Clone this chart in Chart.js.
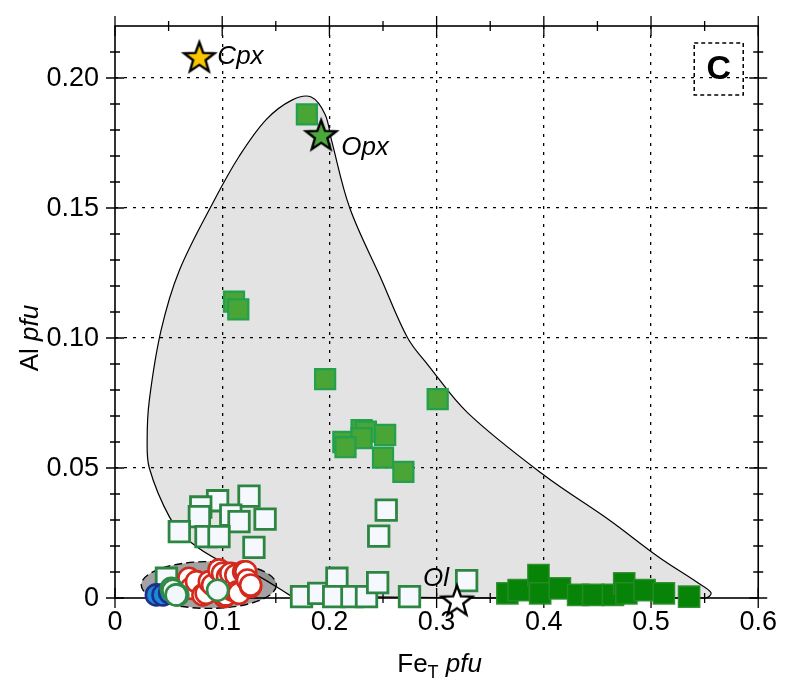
<!DOCTYPE html>
<html>
<head>
<meta charset="utf-8">
<script src="https://cdn.jsdelivr.net/npm/chart.js@4.4.1/dist/chart.umd.min.js"></script>
<style>
  html, body { margin: 0; padding: 0; background: #fff; }
</style>
</head>
<body>
<canvas id="chart" width="785" height="684"></canvas>
<script>
// ---- values ----
const xTicks = [0, 0.1, 0.2, 0.3, 0.4, 0.5, 0.6];
const yTicks = [0, 0.05, 0.10, 0.15, 0.20];
const xMinorTicks = [0.05, 0.15, 0.25, 0.35, 0.45, 0.55];
const yMinorTicks = [0.01, 0.02, 0.03, 0.04, 0.06, 0.07, 0.08, 0.09, 0.11, 0.12, 0.13, 0.14, 0.16, 0.17, 0.18, 0.19, 0.21];

// grey field outline (Fe_T, Al)
const fieldOutline = [
  [0.164, 0.0008], [0.35, 0.0], [0.551, 0.0], [0.556, 0.002], [0.544, 0.0058],
  [0.507, 0.0158], [0.461, 0.030], [0.40, 0.0473], [0.329, 0.0712], [0.292, 0.0896],
  [0.273, 0.100], [0.248, 0.123], [0.219, 0.150], [0.202, 0.176], [0.196, 0.186],
  [0.183, 0.1927], [0.165, 0.1915], [0.141, 0.184], [0.116, 0.170], [0.0926, 0.153],
  [0.060, 0.126], [0.043, 0.103], [0.032, 0.076], [0.030, 0.061], [0.032, 0.050],
  [0.051, 0.031], [0.069, 0.022], [0.100, 0.0138], [0.131, 0.009], [0.164, 0.0008]
];
// dark ellipse around the circle cluster: centre and half-axes
const ellipseCentre = [0.0875, 0.005];
const ellipseHalfAxes = [0.0630, 0.0090];

const greenFilled = [
  [0.179, 0.186], [0.111, 0.114], [0.115, 0.111], [0.196, 0.0842], [0.301, 0.0765],
  [0.213, 0.060], [0.230, 0.0646], [0.234, 0.064], [0.252, 0.0627], [0.230, 0.0615],
  [0.215, 0.058], [0.250, 0.054], [0.269, 0.0485]
];
const darkGreenFilled = [
  [0.366, 0.0018], [0.3765, 0.003], [0.395, 0.0088], [0.3966, 0.0018], [0.415, 0.0037],
  [0.432, 0.0012], [0.446, 0.0012], [0.4645, 0.0012], [0.475, 0.0056], [0.477, 0.0018],
  [0.494, 0.003], [0.512, 0.0018], [0.5355, 0.0005]
];
const openSquares = [
  [0.048, 0.0076], [0.125, 0.0392], [0.0957, 0.0374], [0.080, 0.035], [0.0787, 0.0313],
  [0.108, 0.0319], [0.1157, 0.0294], [0.140, 0.0303], [0.060, 0.0255], [0.0849, 0.0236],
  [0.097, 0.0236], [0.1296, 0.0195], [0.253, 0.0338], [0.246, 0.0238], [0.174, 0.0005],
  [0.190, 0.0018], [0.207, 0.0076], [0.204, 0.0005], [0.221, 0.0005], [0.2346, 0.0005],
  [0.245, 0.0059], [0.2747, 0.0005], [0.328, 0.0067]
];
const redCircles = [
  [0.069, 0.0076], [0.0787, 0.005], [0.071, 0.0037], [0.076, 0.0063], [0.082, 0.0012],
  [0.085, 0.0018], [0.088, 0.0063], [0.091, 0.005], [0.097, 0.0108], [0.1003, 0.0095],
  [0.102, 0.0005], [0.1034, 0.0012], [0.105, 0.0082], [0.108, 0.0095], [0.1096, 0.003],
  [0.1127, 0.0088], [0.114, 0.0024], [0.1157, 0.0018], [0.120, 0.0101], [0.122, 0.0101],
  [0.1235, 0.0069], [0.1265, 0.0044], [0.1265, 0.005]
];
const blueCircles = [[0.0386, 0.0012], [0.0448, 0.0012], [0.051, 0.002]];
const greenCircles = [[0.0525, 0.0037], [0.054, 0.003], [0.0586, 0.0012], [0.057, 0.0012], [0.0957, 0.003]];

const starNames = ['Cpx', 'Opx', 'Ol'];
const starX = [0.0787, 0.1923, 0.319];
const starY = [0.208, 0.178, -0.001];
const starColors = ['#f7c600', '#4ba83a', '#ffffff'];

// ---- helpers ----
const pts = arr => arr.map(p => ({ x: p[0], y: p[1] }));

function makeStar(fill) {
  const c = document.createElement('canvas');
  c.width = 38; c.height = 38;
  const g = c.getContext('2d');
  g.beginPath();
  for (let i = 0; i < 10; i++) {
    const r = i % 2 === 0 ? 16 : 6.6;
    const a = -Math.PI / 2 + i * Math.PI / 5;
    g.lineTo(19 + r * Math.cos(a), 20 + r * Math.sin(a));
  }
  g.closePath();
  g.fillStyle = fill;
  g.fill();
  g.lineWidth = 2.4;
  g.strokeStyle = '#000';
  g.stroke();
  return c;
}

const FONT = "'Liberation Sans', Arial, Helvetica, sans-serif";

// frame, ticks on all four sides, y tick labels
const framePlugin = {
  id: 'frame',
  beforeDatasetsDraw(chart) {
    const { ctx, chartArea: a, scales: { x, y } } = chart;
    ctx.save();
    ctx.strokeStyle = '#000';
    ctx.lineWidth = 1.6;
    ctx.strokeRect(a.left, a.top, a.right - a.left, a.bottom - a.top);
    ctx.lineWidth = 1.3;
    ctx.beginPath();
    const vt = (v, len) => {
      const px = x.getPixelForValue(v);
      ctx.moveTo(px, a.bottom - len); ctx.lineTo(px, a.bottom + len);
      ctx.moveTo(px, a.top - len); ctx.lineTo(px, a.top + len);
    };
    const ht = (v, len) => {
      const py = y.getPixelForValue(v);
      ctx.moveTo(a.left - len, py); ctx.lineTo(a.left + len, py);
      ctx.moveTo(a.right - len, py); ctx.lineTo(a.right + len, py);
    };
    xTicks.forEach(v => vt(v, 10));
    xMinorTicks.forEach(v => vt(v, 5));
    yTicks.forEach(v => ht(v, 9));
    yMinorTicks.forEach(v => ht(v, 5));
    ctx.stroke();

    ctx.fillStyle = '#000';
    ctx.font = `27px ${FONT}`;
    ctx.textAlign = 'right';
    ctx.textBaseline = 'middle';
    yTicks.forEach(v => {
      ctx.fillText(v === 0 ? '0' : v.toFixed(2), a.left - 16, y.getPixelForValue(v) + 1);
    });
    ctx.restore();
  }
};

// ellipse drawn just after the grey field
const ellipsePlugin = {
  id: 'ellipse',
  afterDatasetDraw(chart, args) {
    if (chart.data.datasets[args.index].label !== 'field') return;
    const { ctx, scales: { x, y } } = chart;
    const cx = x.getPixelForValue(ellipseCentre[0]);
    const cy = y.getPixelForValue(ellipseCentre[1]);
    const rx = x.getPixelForValue(ellipseCentre[0] + ellipseHalfAxes[0]) - cx;
    const ry = cy - y.getPixelForValue(ellipseCentre[1] + ellipseHalfAxes[1]);
    ctx.save();
    ctx.beginPath();
    ctx.ellipse(cx, cy, rx, ry, 0, 0, Math.PI * 2);
    ctx.fillStyle = 'rgba(0,0,0,0.36)';
    ctx.fill();
    ctx.setLineDash([8, 4]);
    ctx.lineWidth = 1.4;
    ctx.strokeStyle = '#000';
    ctx.stroke();
    ctx.restore();
  }
};

// star labels, panel letter, axis titles
const textPlugin = {
  id: 'texts',
  afterDatasetsDraw(chart) {
    const { ctx, chartArea: a, scales: { x, y } } = chart;
    ctx.save();
    ctx.fillStyle = '#000';
    ctx.strokeStyle = '#000';
    ctx.font = `italic 26px ${FONT}`;
    ctx.textBaseline = 'middle';
    const offs = [[18, 0, 'left'], [20, 13, 'left'], [-8, -22, 'right']];
    starNames.forEach((n, i) => {
      ctx.textAlign = offs[i][2];
      ctx.fillText(n, x.getPixelForValue(starX[i]) + offs[i][0], y.getPixelForValue(starY[i]) + offs[i][1]);
    });

    // panel letter box
    ctx.setLineDash([4, 3]);
    ctx.lineWidth = 1.5;
    ctx.strokeRect(a.right - 64, a.top + 17, 49, 52);
    ctx.setLineDash([]);
    ctx.font = `bold 34px ${FONT}`;
    ctx.textAlign = 'center';
    ctx.fillText('C', a.right - 39.5, a.top + 44);

    // x title: Fe_T pfu
    const cxT = (a.left + a.right) / 2 + 3;
    const by = 672;
    ctx.textBaseline = 'alphabetic';
    ctx.textAlign = 'left';
    ctx.font = `26px ${FONT}`;
    const wFe = ctx.measureText('Fe').width;
    ctx.font = `18px ${FONT}`;
    const wT = ctx.measureText('T').width;
    ctx.font = `italic 26px ${FONT}`;
    const wP = ctx.measureText(' pfu').width;
    let sx = cxT - (wFe + wT + wP) / 2;
    ctx.font = `26px ${FONT}`;
    ctx.fillText('Fe', sx, by);
    ctx.font = `18px ${FONT}`;
    ctx.fillText('T', sx + wFe, by + 6);
    ctx.font = `italic 26px ${FONT}`;
    ctx.fillText(' pfu', sx + wFe + wT, by);

    // y title: Al pfu
    ctx.translate(38, 338);
    ctx.rotate(-Math.PI / 2);
    ctx.font = `26px ${FONT}`;
    const wAl = ctx.measureText('Al ').width;
    ctx.font = `italic 26px ${FONT}`;
    const wPf = ctx.measureText('pfu').width;
    sx = -(wAl + wPf) / 2;
    ctx.font = `26px ${FONT}`;
    ctx.fillText('Al ', sx, 0);
    ctx.font = `italic 26px ${FONT}`;
    ctx.fillText('pfu', sx + wAl, 0);
    ctx.restore();
  }
};

const sq = (data, fill, edge, bw, r) => ({
  type: 'scatter', data: pts(data), pointStyle: 'rect', pointRadius: r, pointHoverRadius: r,
  backgroundColor: fill, borderColor: edge, borderWidth: bw, clip: false
});
const circ = (data, fill, edge) => ({
  type: 'scatter', data: pts(data), pointStyle: 'circle', pointRadius: 10.5, pointHoverRadius: 10.5,
  backgroundColor: fill, borderColor: edge, borderWidth: 2.6, clip: false
});

const datasets = [
  { ...sq(openSquares, '#f5f8ff', '#2c8641', 2.8, 14.5), order: 9 },
  { ...sq(greenFilled, '#4aa537', '#22a04e', 2.2, 14.2), order: 8 },
  { ...sq(darkGreenFilled, '#078407', 'rgba(40,140,40,0.9)', 1.5, 15), order: 7 },
  { ...circ(redCircles, '#ffffff', '#d42a1e'), order: 6 },
  { ...circ(blueCircles, '#1c8ad4', '#1c2f8c'), order: 5 },
  { ...circ(greenCircles, '#f2f7fb', '#2e8a45'), order: 4 },
  {
    type: 'scatter', label: 'stars',
    data: starX.map((v, i) => ({ x: v, y: starY[i] })),
    pointStyle: starColors.map(makeStar), pointRadius: 16, clip: false, order: 1
  },
  {
    type: 'line', label: 'field', data: pts(fieldOutline),
    borderColor: '#000', borderWidth: 1.2, backgroundColor: 'rgba(0,0,0,0.11)',
    fill: 'shape', tension: 0.35, pointRadius: 0, clip: false, order: 20
  }
];

new Chart(document.getElementById('chart'), {
  data: { datasets },
  options: {
    responsive: false,
    animation: false,
    devicePixelRatio: 1,
    layout: { padding: { left: 0, top: 26, right: 22, bottom: 0 } },
    plugins: { legend: { display: false }, tooltip: { enabled: false } },
    scales: {
      x: {
        type: 'linear', min: 0, max: 0.6,
        afterBuildTicks: s => { s.ticks = xTicks.map(v => ({ value: v })); },
        afterFit: s => { s.height = 86; },
        ticks: {
          color: '#000', padding: 8, font: { family: FONT, size: 27 },
          callback: v => (v === 0 ? '0' : v.toFixed(1))
        },
        grid: {
          drawTicks: false, lineWidth: 1.3,
          color: c => (c.tick && (c.tick.value === 0 || c.tick.value === 0.6) ? 'rgba(0,0,0,0)' : '#000')
        },
        border: { display: false, dash: [3, 6] }
      },
      y: {
        type: 'linear', min: 0, max: 0.22,
        afterBuildTicks: s => { s.ticks = yTicks.map(v => ({ value: v })); },
        afterFit: s => { s.width = 115; },
        ticks: { display: false },
        grid: {
          drawTicks: false, lineWidth: 1.3,
          color: c => (c.tick && c.tick.value === 0 ? 'rgba(0,0,0,0)' : '#000')
        },
        border: { display: false, dash: [3, 6] }
      }
    }
  },
  plugins: [framePlugin, ellipsePlugin, textPlugin]
});
</script>
</body>
</html>
